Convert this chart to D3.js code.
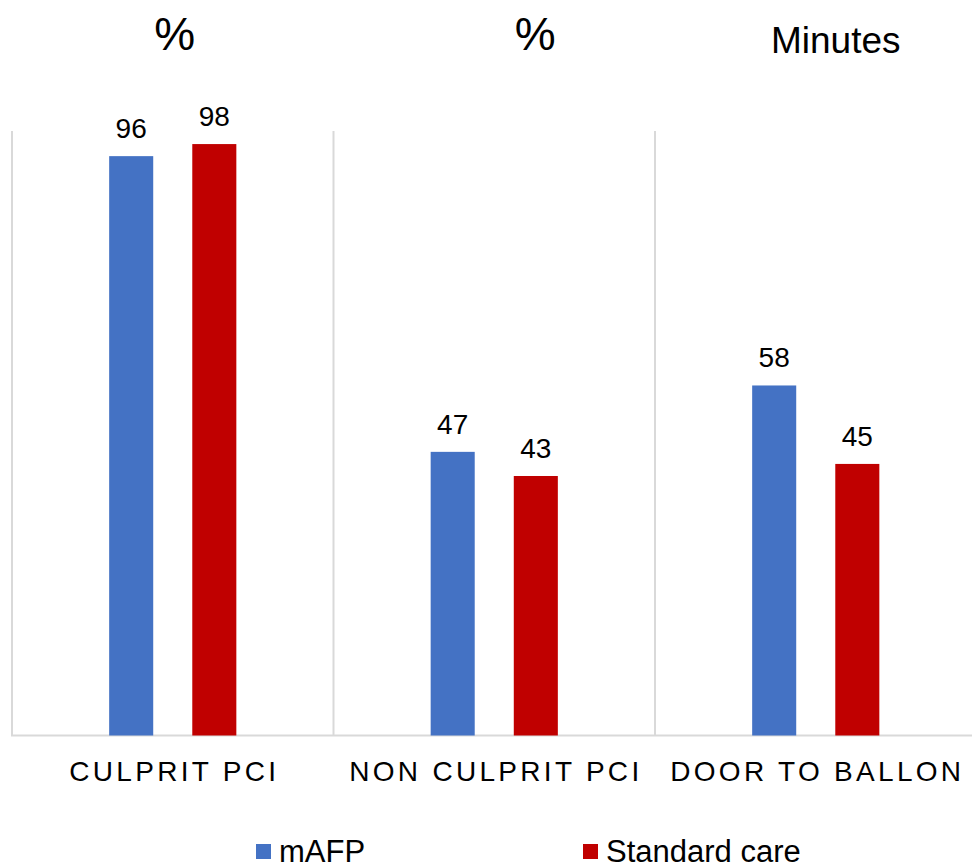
<!DOCTYPE html>
<html>
<head>
<meta charset="utf-8">
<script src="https://cdn.jsdelivr.net/npm/d3@7"></script>
<style>
  html, body { margin: 0; padding: 0; background: #fff; }
  svg { display: block; font-family: "Liberation Sans", Arial, sans-serif; }
</style>
</head>
<body>
<div id="chart"></div>
<script>
// chart data
const categories = ['CULPRIT PCI', 'NON CULPRIT PCI', 'DOOR TO BALLON'];
const units = ['%', '%', 'Minutes'];
const seriesNames = ['mAFP', 'Standard care'];
const mafpValues = [96, 47, 58];
const standardValues = [98, 43, 45];

const colors = ['#4472C4', '#C00000'];
const width = 972, height = 866;

const svg = d3.select('#chart').append('svg')
  .attr('width', width)
  .attr('height', height);

const x0 = d3.scaleBand()
  .domain(categories)
  .range([12, 976.5])
  .paddingInner(0)
  .paddingOuter(0);

const x1 = d3.scaleBand()
  .domain(seriesNames)
  .range([0, x0.bandwidth()])
  .paddingInner(0.47)
  .paddingOuter(1.169);

const y = d3.scaleLinear()
  .domain([0, 100])
  .range([735.5, 132]);

// vertical separators between categories
svg.append('g')
  .selectAll('line')
  .data(categories)
  .join('line')
  .attr('x1', d => x0(d))
  .attr('x2', d => x0(d))
  .attr('y1', y(100) - 1)
  .attr('y2', y(0))
  .attr('stroke', '#d9d9d9')
  .attr('stroke-width', 2);

// baseline
svg.append('line')
  .attr('x1', x0.range()[0] - 1)
  .attr('x2', width)
  .attr('y1', y(0))
  .attr('y2', y(0))
  .attr('stroke', '#d9d9d9')
  .attr('stroke-width', 2);

const rows = categories.map((c, i) => ({
  cat: c,
  values: [mafpValues[i], standardValues[i]]
}));

const groups = svg.append('g')
  .selectAll('g')
  .data(rows)
  .join('g')
  .attr('transform', d => `translate(${x0(d.cat)},0)`);

groups.selectAll('rect')
  .data(d => d.values.map((v, j) => ({ name: seriesNames[j], value: v, j })))
  .join('rect')
  .attr('x', d => x1(d.name))
  .attr('y', d => y(d.value))
  .attr('width', x1.bandwidth())
  .attr('height', d => y(0) - y(d.value))
  .attr('fill', d => colors[d.j]);

groups.selectAll('text.val')
  .data(d => d.values.map((v, j) => ({ name: seriesNames[j], value: v })))
  .join('text')
  .attr('class', 'val')
  .attr('x', d => x1(d.name) + x1.bandwidth() / 2)
  .attr('y', d => y(d.value) - 18)
  .attr('text-anchor', 'middle')
  .attr('font-size', 28)
  .attr('fill', '#000')
  .text(d => d.value);

// category labels
svg.append('g')
  .selectAll('text')
  .data(categories)
  .join('text')
  .attr('x', d => x0(d) + x0.bandwidth() / 2 + 1.6)
  .attr('y', 781)
  .attr('text-anchor', 'middle')
  .attr('font-size', 28)
  .attr('letter-spacing', 3.3)
  .attr('fill', '#000')
  .text(d => d);

// unit annotations above each group
const unitOffsets = [2, 41, 20];
const unitSizes = [46, 46, 37];
svg.append('g')
  .selectAll('text')
  .data(units)
  .join('text')
  .attr('x', (d, i) => x0(categories[i]) + x0.bandwidth() / 2 + unitOffsets[i])
  .attr('y', (d, i) => i === 2 ? 53 : 50)
  .attr('text-anchor', 'middle')
  .attr('font-size', (d, i) => unitSizes[i])
  .attr('fill', '#000')
  .text(d => d);

// legend
const legendX = [256, 583];
const legend = svg.append('g')
  .selectAll('g')
  .data(seriesNames)
  .join('g')
  .attr('transform', (d, i) => `translate(${legendX[i]},844)`);
legend.append('rect')
  .attr('width', 15)
  .attr('height', 15)
  .attr('fill', (d, i) => colors[i]);
legend.append('text')
  .attr('x', 23)
  .attr('y', 18)
  .attr('font-size', 31)
  .attr('fill', '#000')
  .text(d => d);
</script>
</body>
</html>
